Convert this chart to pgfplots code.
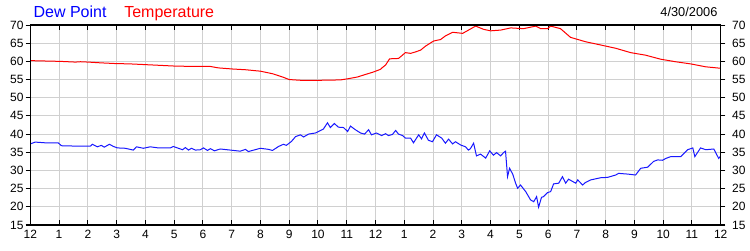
\documentclass[border=0pt]{standalone}
\usepackage{pgfplots}
\pgfplotsset{compat=1.18}
\usepackage{fontspec}
\setmainfont{Liberation Sans}
\definecolor{gridc}{RGB}{208,208,208}
\definecolor{dewc}{RGB}{24,24,255}
\begin{document}
\begin{tikzpicture}
\path[use as bounding box] (-22.73pt,-18.75pt) rectangle (539.77pt,168.75pt);
\pgfplotsset{
  base/.style={
    scale only axis, width=517.8pt, height=150pt,
    xmin=0, xmax=24, ymin=15, ymax=70,
    ytick={15,20,...,70},
    xtick={0,1,...,24},
    axis line style={line width=0.9pt},
    major tick length=3.5pt,
    tick style={line width=0.75pt, black},
    /pgf/number format/assume math mode=true,
    tick label style={font=\fontsize{9}{10}\selectfont},
  }
}
\begin{axis}[base,
  grid=major,
  major grid style={gridc, line width=0.75pt},
  tick align=inside,
  xtick pos=both,
  xticklabel pos=bottom,
  xticklabels={12,1,2,3,4,5,6,7,8,9,10,11,12,1,2,3,4,5,6,7,8,9,10,11,12},
  y tick style={draw=none},
  ytick pos=left,
  yticklabel style={xshift=-1.5pt},
  xticklabel style={yshift=-0.5pt},
]
\addplot[red, line width=0.75pt] coordinates {
(0,60.2)(0.52,60.1)(1.04,60.0)(1.57,59.8)(1.74,59.9)(2.02,59.8)(2.43,59.6)(2.96,59.4)
(3.48,59.3)(4.0,59.1)(4.52,58.9)(5.04,58.7)(5.74,58.6)(6.26,58.6)(6.54,58.2)(7.03,57.9)
(7.48,57.7)(8.0,57.3)(8.42,56.6)(8.77,55.7)(9.0,55.0)(9.39,54.8)(10.09,54.8)(10.78,54.9)
(11.03,55.2)(11.37,55.7)(11.65,56.4)(11.90,57.0)(12.17,57.8)(12.24,58.3)(12.35,59.0)
(12.49,60.7)(12.8,60.8)(13.04,62.4)(13.22,62.2)(13.39,62.6)(13.57,63.1)(13.74,64.2)
(14.02,65.6)(14.26,66.0)(14.43,67.0)(14.68,68.0)(15.03,67.7)(15.48,69.7)(15.76,68.8)
(16.0,68.4)(16.35,68.6)(16.7,69.2)(17.15,69.0)(17.57,69.7)(17.74,69.0)(17.98,69.0)
(18.09,69.7)(18.43,69.0)(18.78,66.6)(19.3,65.4)(19.83,64.5)(20.35,63.6)(20.87,62.4)
(21.39,61.7)(21.91,60.6)(22.43,59.9)(22.96,59.3)(23.48,58.5)(24,58.1)
};
\addplot[dewc, line width=0.75pt] coordinates {
(0,37.3)(0.17,37.8)(0.52,37.6)(0.97,37.6)(1.08,36.8)(1.57,36.7)(2.09,36.7)(2.16,37.2)
(2.33,36.5)(2.47,36.9)(2.57,36.4)(2.75,37.2)(2.89,36.6)(3.03,36.2)(3.3,36.1)(3.58,35.6)
(3.69,36.5)(3.93,36.1)(4.17,36.5)(4.45,36.2)(4.87,36.2)(4.97,36.6)(5.29,35.7)(5.39,36.3)
(5.5,35.6)(5.6,36.1)(5.74,35.6)(5.91,35.7)(6.02,36.2)(6.16,35.5)(6.26,36.0)(6.4,35.4)
(6.6,35.9)(6.96,35.6)(7.3,35.3)(7.48,35.8)(7.58,35.2)(7.72,35.5)(8.0,36.1)(8.28,35.8)
(8.42,35.5)(8.63,36.6)(8.8,37.2)(8.9,36.9)(9.08,38.0)(9.22,39.3)(9.39,39.8)(9.5,39.2)
(9.67,40.0)(9.91,40.3)(10.09,41.0)(10.19,41.4)(10.33,43.1)(10.43,41.8)(10.57,42.9)
(10.71,41.9)(10.89,41.8)(11.03,40.7)(11.13,42.2)(11.3,41.2)(11.48,40.3)(11.62,40.0)
(11.76,41.2)(11.86,39.8)(12.03,40.3)(12.21,39.6)(12.35,40.1)(12.45,39.6)(12.59,39.9)
(12.7,41.0)(12.8,40.0)(12.94,39.6)(13.04,38.9)(13.22,38.9)(13.32,37.6)(13.5,39.8)
(13.6,38.7)(13.7,40.3)(13.84,38.3)(13.98,37.9)(14.12,39.8)(14.3,38.9)(14.43,37.5)
(14.54,38.6)(14.68,37.3)(14.78,37.9)(14.96,37.0)(15.13,36.5)(15.23,35.6)(15.3,36.0)
(15.41,37.5)(15.51,34.0)(15.65,34.5)(15.83,33.4)(15.97,35.4)(16.1,34.2)(16.21,34.9)
(16.35,34.0)(16.45,34.9)(16.52,35.3)(16.59,28.3)(16.66,30.6)(16.77,29.0)(16.87,26.5)
(16.94,25.1)(17.04,26.0)(17.22,24.2)(17.39,21.9)(17.5,21.4)(17.6,22.8)(17.67,19.9)
(17.77,22.6)(17.84,22.8)(17.98,23.9)(18.09,24.2)(18.19,26.3)(18.37,26.5)(18.5,28.3)
(18.61,26.5)(18.71,27.6)(18.96,26.5)(19.03,27.4)(19.2,26.0)(19.3,26.7)(19.48,27.4)
(19.83,28.0)(20.07,28.1)(20.35,28.75)(20.45,29.2)(20.77,29.0)(21.04,28.75)(21.22,30.6)
(21.46,30.9)(21.67,32.5)(21.81,32.9)(21.98,32.8)(22.09,33.3)(22.26,33.8)(22.61,33.8)
(22.85,35.7)(23.03,36.2)(23.1,33.8)(23.3,36.2)(23.48,35.7)(23.76,35.9)(23.93,33.3)(24,34.0)
};
\end{axis}
\begin{axis}[base,
  tick align=outside,
  xtick=\empty,
  ytick pos=both,
  yticklabel pos=right,
  yticklabel style={xshift=1.5pt},
]
\end{axis}
\node[anchor=base west, text=blue, font=\fontsize{12}{14}\selectfont, inner sep=0pt] at (2.25pt,155.8pt) {Dew Point};
\node[anchor=base west, text=red, font=\fontsize{12}{14}\selectfont, inner sep=0pt] at (70.3pt,155.8pt) {Temperature};
\node[anchor=base east, font=\fontsize{9.6}{11}\selectfont, inner sep=0pt] at (515.5pt,156.2pt) {4/30/2006};
\end{tikzpicture}
\end{document}
